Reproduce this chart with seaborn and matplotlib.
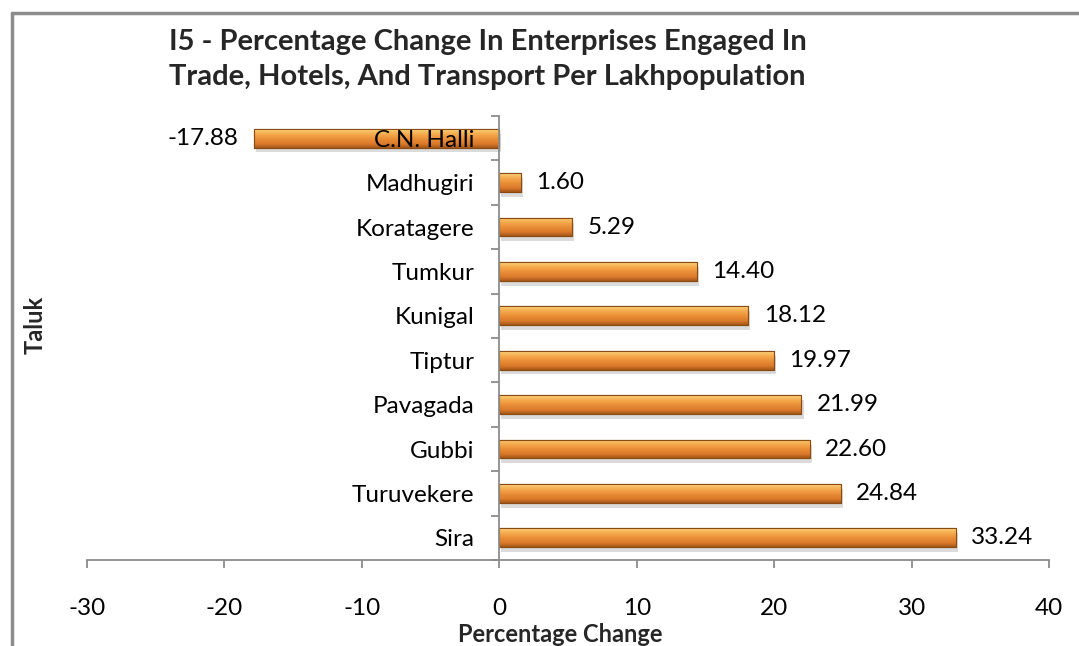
import matplotlib
matplotlib.use("Agg")
import matplotlib.pyplot as plt
import matplotlib.patheffects as pe
import numpy as np
import pandas as pd
import seaborn as sns
from matplotlib.colors import LinearSegmentedColormap
from matplotlib.lines import Line2D

taluks = ["C.N. Halli", "Madhugiri", "Koratagere", "Tumkur", "Kunigal",
          "Tiptur", "Pavagada", "Gubbi", "Turuvekere", "Sira"]
change = [-17.88, 1.60, 5.29, 14.40, 18.12, 19.97, 21.99, 22.60, 24.84, 33.24]
xticks = [-30, -20, -10, 0, 10, 20, 30, 40]

sns.set_theme(style="white")
plt.rcParams["font.family"] = ["Lato", "DejaVu Sans"]

df = pd.DataFrame({"taluk": taluks, "change": change})

fig = plt.figure(figsize=(10.79, 6.46), dpi=100)
ax = fig.add_axes([0.0806, 0.1331, 0.8916, 0.6873])
sns.barplot(data=df, x="change", y="taluk", orient="h", width=0.42,
            color="#e8913a", edgecolor="#8a4a14", linewidth=0.8, ax=ax)
ax.set_axisbelow(False)

# bevel-like gradient on each bar, with a soft shadow
grad = LinearSegmentedColormap.from_list(
    "bevel", [(0, "#fcd680"), (0.2, "#f7b255"), (0.5, "#eb9038"),
              (0.8, "#d9782a"), (1, "#a35618")])
g = np.linspace(0, 1, 64).reshape(-1, 1)
for p in ax.patches:
    p.set_path_effects([pe.SimplePatchShadow(offset=(1.5, -3.5), shadow_rgbFace="#888888", alpha=0.3), pe.Normal()])
    x0, y0, w, h = p.get_x(), p.get_y(), p.get_width(), p.get_height()
    im = ax.imshow(g, cmap=grad, aspect="auto", extent=(x0, x0 + w, y0 + h, y0),
                   origin="upper", zorder=1.2)
    im.set_clip_path(p)
    edge = plt.Rectangle((x0, y0), w, h, fill=False, edgecolor="#8a4a14", linewidth=0.8, zorder=1.3)
    ax.add_patch(edge)

ax.set_xlim(-30, 40)
ax.set_ylim(len(taluks) - 0.5, -0.5)
ax.set_xticks(xticks)
ax.set_xticklabels([str(t) for t in xticks])

ax.bar_label(ax.containers[0], labels=[f"{v:.2f}" for v in change], padding=11, fontsize=17.5, color="black")

for s in ["top", "right"]:
    ax.spines[s].set_visible(False)
ax.spines["left"].set_position(("data", 0))
ax.spines["left"].set_color("#8c8c8c")
ax.spines["bottom"].set_color("#8c8c8c")
ax.spines["left"].set_linewidth(1.3)
ax.spines["bottom"].set_linewidth(1.3)

ax.set_yticks(np.arange(-0.5, len(taluks), 1), minor=True)
ax.tick_params(axis="y", which="both", left=True)
ax.tick_params(axis="x", which="major", bottom=True)
ax.tick_params(axis="y", which="major", length=0, pad=18, labelsize=17.5, colors="black")
ax.tick_params(axis="y", which="minor", length=6, width=1.3, color="#8c8c8c", direction="out")
ax.tick_params(axis="x", which="major", length=6, width=1.3, color="#8c8c8c", direction="out",
               pad=21, labelsize=17.5, labelcolor="black")
ax.set_xlabel("")
ax.set_ylabel("")

fig.text(0.452, 0.935, "I5 - Percentage Change In Enterprises Engaged In",
         ha="center", va="center", fontsize=21, fontweight="bold")
fig.text(0.452, 0.881, "Trade, Hotels, And Transport Per Lakhpopulation",
         ha="center", va="center", fontsize=21, fontweight="bold")
fig.text(0.519, 0.018, "Percentage Change", ha="center", va="center", fontsize=17, fontweight="bold")
fig.text(0.033, 0.497, "Taluk", ha="center", va="center", rotation=90, fontsize=17, fontweight="bold")

# chart frame
fig.add_artist(Line2D([12 / 1079, 1], [1 - 13 / 646, 1 - 13 / 646], color="#8c8c8c", lw=2.5))
fig.add_artist(Line2D([12 / 1079, 12 / 1079], [0, 1 - 13 / 646], color="#8c8c8c", lw=2.5))

fig.savefig("out.png", dpi=100)
